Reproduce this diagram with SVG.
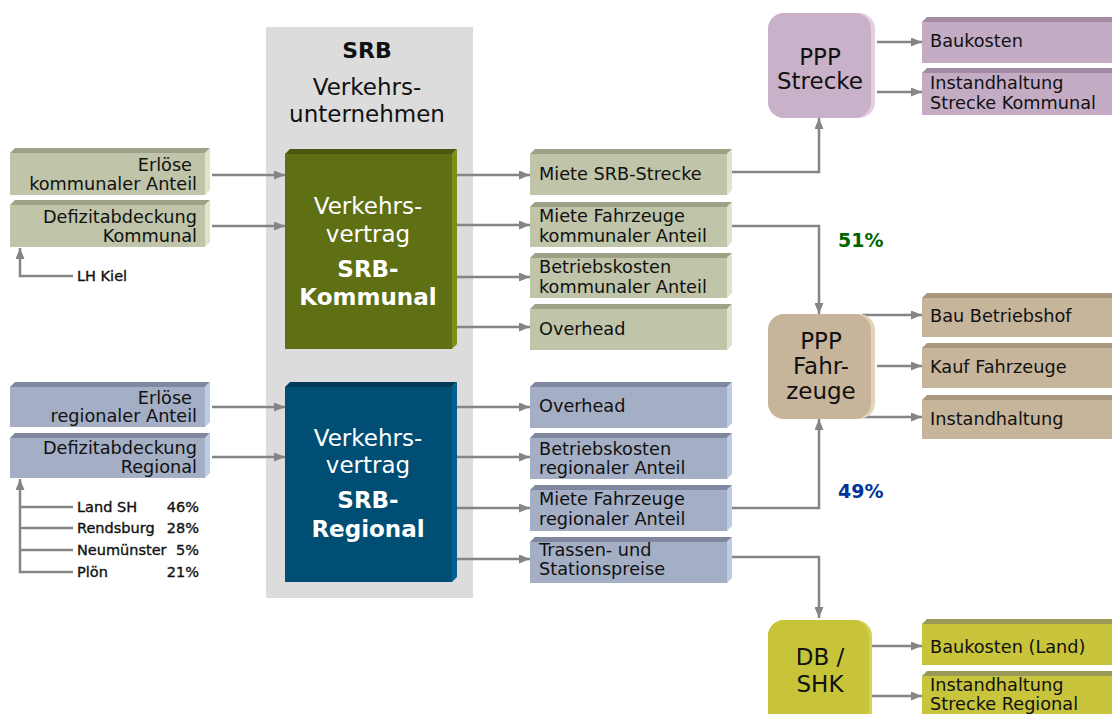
<svg xmlns="http://www.w3.org/2000/svg" width="1112" height="714" viewBox="0 0 1112 714">
  <defs>
    <marker id="ah" viewBox="0 0 11 9" refX="11" refY="4.5" markerWidth="11" markerHeight="9" markerUnits="userSpaceOnUse" orient="auto">
      <path d="M0,0 L11,4.5 L0,9 z" fill="#858585"/>
    </marker>
    <style>
      text { font-family: "DejaVu Sans", Verdana, sans-serif; fill: #111; }
      .t { font-size: 17.7px; }
      .tr { font-size: 17.7px; text-anchor: end; }
      .sm { font-size: 14.5px; stroke: #111; stroke-width: 0.35; }
      .big { font-size: 23px; text-anchor: middle; }
      .bigw { font-size: 23px; text-anchor: middle; fill: #fff; }
      .bigwb { font-size: 23px; text-anchor: middle; fill: #fff; font-weight: bold; }
      .rn { font-size: 23px; text-anchor: middle; }
      .pct { font-size: 19px; font-weight: bold; }
      .con { fill: none; stroke: #858585; stroke-width: 2.5; }
      .arr { marker-end: url(#ah); }
      .kF { fill: #c0c4a8; } .kT { fill: #9ea185; } .kR { fill: #dfe2cc; }
      .rF { fill: #a4aec4; } .rT { fill: #7f889e; } .rR { fill: #bdcbe4; }
      .gF { fill: #5f6f14; } .gT { fill: #4a5710; } .gR { fill: #7a8f1c; }
      .bF { fill: #004e74; } .bT { fill: #003b59; } .bR { fill: #00618f; }
      .pF { fill: #c4adc4; } .pT { fill: #a38ca3; }
      .nF { fill: #c6b59b; } .nT { fill: #a6977e; }
      .yF { fill: #c8c43c; } .yT { fill: #9b9957; }
    </style>
  </defs>

  <!-- operator panel -->
  <g id="srb-panel">
    <rect x="266" y="27" width="207" height="571" fill="#dcdcdc"/>
    <text x="367" y="58" style="font-size:22px;font-weight:bold;text-anchor:middle">SRB</text>
    <text class="big" x="367" y="95">Verkehrs-</text>
    <text class="big" x="367" y="122">unternehmen</text>
  </g>

  <!-- connectors -->
  <g id="connectors">
    <path class="con arr" d="M212,175 H285"/>
    <path class="con arr" d="M212,226 H285"/>
    <path class="con arr" d="M73,276 H20 V248"/>
    <path class="con arr" d="M212,407 H285"/>
    <path class="con arr" d="M212,457 H285"/>
    <path class="con arr" d="M73,572 H20 V479"/>
    <path class="con" d="M20,507 H73 M20,528 H73 M20,550 H73"/>
    <path class="con arr" d="M457,175 H530"/>
    <path class="con arr" d="M457,225 H530"/>
    <path class="con arr" d="M457,277 H530"/>
    <path class="con arr" d="M457,327 H530"/>
    <path class="con arr" d="M457,407 H530"/>
    <path class="con arr" d="M457,457 H530"/>
    <path class="con arr" d="M457,508 H530"/>
    <path class="con arr" d="M457,559 H530"/>
    <path class="con arr" d="M732,172 H819 V118"/>
    <path class="con arr" d="M732,226 H819 V314"/>
    <path class="con arr" d="M732,508 H819 V419"/>
    <path class="con arr" d="M732,557 H819 V618"/>
    <path class="con arr" d="M877,42 H922"/>
    <path class="con arr" d="M877,92 H922"/>
    <path class="con arr" d="M862,315 H922"/>
    <path class="con arr" d="M877,366 H922"/>
    <path class="con arr" d="M862,417 H922"/>
    <path class="con arr" d="M872,646 H922"/>
    <path class="con arr" d="M872,696 H922"/>
  </g>

  <!-- municipal income side -->
  <g id="erloese-kommunal">
    <rect class="kF" x="10" y="153" width="195" height="42"/>
    <polygon class="kT" points="10,153 15,148 210,148 205,153"/>
    <polygon class="kR" points="205,153 210,148 210,190 205,195"/>
    <text class="tr" x="192" y="171">Erlöse</text>
    <text class="tr" x="197" y="190">kommunaler Anteil</text>
  </g>
  <g id="defizit-kommunal">
    <rect class="kF" x="10" y="205" width="195" height="42"/>
    <polygon class="kT" points="10,205 15,200 210,200 205,205"/>
    <polygon class="kR" points="205,205 210,200 210,242 205,247"/>
    <text class="tr" x="197" y="223">Defizitabdeckung</text>
    <text class="tr" x="197" y="242">Kommunal</text>
  </g>
  <g id="lh-kiel">
    <text class="sm" x="77" y="281">LH Kiel</text>
  </g>

  <!-- regional income side -->
  <g id="erloese-regional">
    <rect class="rF" x="10" y="387" width="195" height="40"/>
    <polygon class="rT" points="10,387 15,382 210,382 205,387"/>
    <polygon class="rR" points="205,387 210,382 210,422 205,427"/>
    <text class="tr" x="192" y="404">Erlöse</text>
    <text class="tr" x="197" y="422">regionaler Anteil</text>
  </g>
  <g id="defizit-regional">
    <rect class="rF" x="10" y="438" width="195" height="40"/>
    <polygon class="rT" points="10,438 15,433 210,433 205,438"/>
    <polygon class="rR" points="205,438 210,433 210,473 205,478"/>
    <text class="tr" x="197" y="454">Defizitabdeckung</text>
    <text class="tr" x="197" y="473">Regional</text>
  </g>
  <g id="traeger">
    <text class="sm" x="77" y="512">Land SH</text>
    <text class="sm" x="199" y="512" text-anchor="end">46%</text>
    <text class="sm" x="77" y="533">Rendsburg</text>
    <text class="sm" x="199" y="533" text-anchor="end">28%</text>
    <text class="sm" x="77" y="555">Neumünster</text>
    <text class="sm" x="199" y="555" text-anchor="end">5%</text>
    <text class="sm" x="77" y="577">Plön</text>
    <text class="sm" x="199" y="577" text-anchor="end">21%</text>
  </g>

  <!-- contracts -->
  <g id="vertrag-kommunal">
    <rect class="gF" x="285" y="154" width="167" height="195"/>
    <polygon class="gT" points="285,154 290,149 457,149 452,154"/>
    <polygon class="gR" points="452,154 457,149 457,344 452,349"/>
    <text class="bigw" x="368" y="214">Verkehrs-</text>
    <text class="bigw" x="368" y="242">vertrag</text>
    <text class="bigwb" x="368" y="277">SRB-</text>
    <text class="bigwb" x="368" y="305">Kommunal</text>
  </g>
  <g id="vertrag-regional">
    <rect class="bF" x="285" y="387" width="167" height="195"/>
    <polygon class="bT" points="285,387 290,382 457,382 452,387"/>
    <polygon class="bR" points="452,387 457,382 457,577 452,582"/>
    <text class="bigw" x="368" y="446">Verkehrs-</text>
    <text class="bigw" x="368" y="473">vertrag</text>
    <text class="bigwb" x="368" y="508">SRB-</text>
    <text class="bigwb" x="368" y="537">Regional</text>
  </g>

  <!-- municipal cost items -->
  <g id="miete-strecke">
    <rect class="kF" x="530" y="154" width="197" height="41"/>
    <polygon class="kT" points="530,154 535,149 732,149 727,154"/>
    <polygon class="kR" points="727,154 732,149 732,190 727,195"/>
    <text class="t" x="539" y="180">Miete SRB-Strecke</text>
  </g>
  <g id="miete-fz-kommunal">
    <rect class="kF" x="530" y="207" width="197" height="40"/>
    <polygon class="kT" points="530,207 535,202 732,202 727,207"/>
    <polygon class="kR" points="727,207 732,202 732,242 727,247"/>
    <text class="t" x="539" y="222">Miete Fahrzeuge</text>
    <text class="t" x="539" y="242">kommunaler Anteil</text>
  </g>
  <g id="betrieb-kommunal">
    <rect class="kF" x="530" y="258" width="197" height="40"/>
    <polygon class="kT" points="530,258 535,253 732,253 727,258"/>
    <polygon class="kR" points="727,258 732,253 732,293 727,298"/>
    <text class="t" x="539" y="273">Betriebskosten</text>
    <text class="t" x="539" y="293">kommunaler Anteil</text>
  </g>
  <g id="overhead-kommunal">
    <rect class="kF" x="530" y="309" width="197" height="41"/>
    <polygon class="kT" points="530,309 535,304 732,304 727,309"/>
    <polygon class="kR" points="727,309 732,304 732,345 727,350"/>
    <text class="t" x="539" y="335">Overhead</text>
  </g>

  <!-- regional cost items -->
  <g id="overhead-regional">
    <rect class="rF" x="530" y="387" width="197" height="41"/>
    <polygon class="rT" points="530,387 535,382 732,382 727,387"/>
    <polygon class="rR" points="727,387 732,382 732,423 727,428"/>
    <text class="t" x="539" y="412">Overhead</text>
  </g>
  <g id="betrieb-regional">
    <rect class="rF" x="530" y="438" width="197" height="41"/>
    <polygon class="rT" points="530,438 535,433 732,433 727,438"/>
    <polygon class="rR" points="727,438 732,433 732,474 727,479"/>
    <text class="t" x="539" y="455">Betriebskosten</text>
    <text class="t" x="539" y="474">regionaler Anteil</text>
  </g>
  <g id="miete-fz-regional">
    <rect class="rF" x="530" y="490" width="197" height="41"/>
    <polygon class="rT" points="530,490 535,485 732,485 727,490"/>
    <polygon class="rR" points="727,490 732,485 732,526 727,531"/>
    <text class="t" x="539" y="505">Miete Fahrzeuge</text>
    <text class="t" x="539" y="525">regionaler Anteil</text>
  </g>
  <g id="trassen">
    <rect class="rF" x="530" y="542" width="197" height="41"/>
    <polygon class="rT" points="530,542 535,537 732,537 727,542"/>
    <polygon class="rR" points="727,542 732,537 732,578 727,583"/>
    <text class="t" x="539" y="556">Trassen- und</text>
    <text class="t" x="539" y="575">Stationspreise</text>
  </g>

  <!-- shares -->
  <g id="anteile">
    <text class="pct" x="838" y="247" style="fill:#006400">51%</text>
    <text class="pct" x="838" y="498" style="fill:#003399">49%</text>
  </g>

  <!-- PPP track -->
  <g id="ppp-strecke">
    <rect x="768" y="13" width="107" height="105" rx="16" fill="#e2cfe2"/>
    <rect x="768" y="13" width="103" height="105" rx="16" fill="#c9b1c9"/>
    <text class="rn" x="820" y="65">PPP</text>
    <text class="rn" x="820" y="89">Strecke</text>
  </g>
  <g id="baukosten-strecke">
    <rect class="pF" x="922" y="22" width="200" height="41"/>
    <polygon class="pT" points="922,22 927,17 1120,17 1120,22"/>
    <text class="t" x="930" y="47">Baukosten</text>
  </g>
  <g id="instandhaltung-strecke">
    <rect class="pF" x="922" y="73" width="200" height="42"/>
    <polygon class="pT" points="922,73 927,68 1120,68 1120,73"/>
    <text class="t" x="930" y="89">Instandhaltung</text>
    <text class="t" x="930" y="109">Strecke Kommunal</text>
  </g>

  <!-- PPP vehicles -->
  <g id="ppp-fahrzeuge">
    <rect x="768" y="314" width="107" height="105" rx="16" fill="#e3d4b8"/>
    <rect x="768" y="314" width="103" height="105" rx="16" fill="#c7b59b"/>
    <text class="rn" x="821" y="349">PPP</text>
    <text class="rn" x="821" y="374">Fahr-</text>
    <text class="rn" x="821" y="399">zeuge</text>
  </g>
  <g id="bau-betriebshof">
    <rect class="nF" x="922" y="298" width="200" height="39"/>
    <polygon class="nT" points="922,298 927,293 1120,293 1120,298"/>
    <text class="t" x="930" y="322">Bau Betriebshof</text>
  </g>
  <g id="kauf-fahrzeuge">
    <rect class="nF" x="922" y="348" width="200" height="40"/>
    <polygon class="nT" points="922,348 927,343 1120,343 1120,348"/>
    <text class="t" x="930" y="373">Kauf Fahrzeuge</text>
  </g>
  <g id="instandhaltung-fz">
    <rect class="nF" x="922" y="400" width="200" height="39"/>
    <polygon class="nT" points="922,400 927,395 1120,395 1120,400"/>
    <text class="t" x="930" y="425">Instandhaltung</text>
  </g>

  <!-- DB / SHK -->
  <g id="db-shk">
    <rect x="768" y="620" width="104" height="110" rx="16" fill="#d6d256"/>
    <rect x="768" y="620" width="101" height="110" rx="16" fill="#c8c43a"/>
    <text class="rn" x="820" y="665">DB /</text>
    <text class="rn" x="820" y="692">SHK</text>
  </g>
  <g id="baukosten-land">
    <rect class="yF" x="922" y="624" width="200" height="41"/>
    <polygon class="yT" points="922,624 927,619 1120,619 1120,624"/>
    <text class="t" x="930" y="653">Baukosten (Land)</text>
  </g>
  <g id="instandhaltung-regional">
    <rect class="yF" x="922" y="676" width="200" height="40"/>
    <polygon class="yT" points="922,676 927,671 1120,671 1120,676"/>
    <text class="t" x="930" y="691">Instandhaltung</text>
    <text class="t" x="930" y="710">Strecke Regional</text>
  </g>
</svg>
